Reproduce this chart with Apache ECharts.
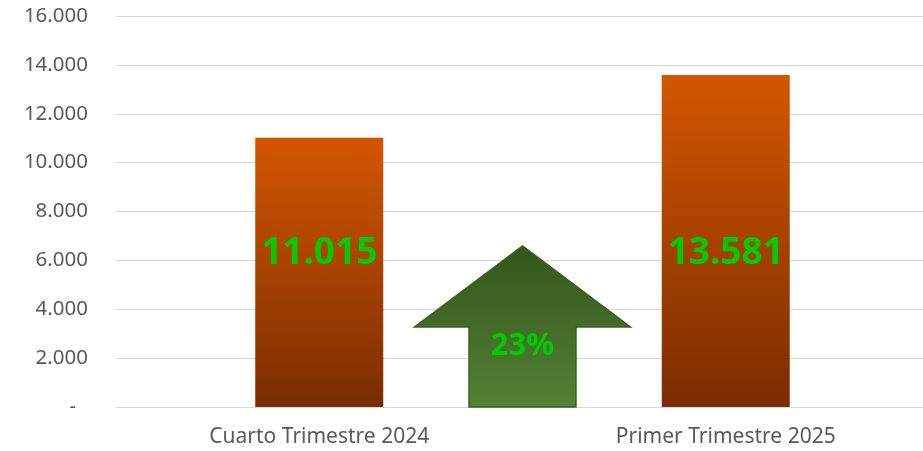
<!DOCTYPE html>
<html>
<head>
<meta charset="utf-8">
<script src="https://cdn.jsdelivr.net/npm/echarts@6/dist/echarts.min.js"></script>
<style>html,body{margin:0;padding:0;background:#fff;}#c{width:923px;height:451px;}</style>
</head>
<body>
<div id="c"></div>
<script>
var categories = ['Cuarto Trimestre 2024', 'Primer Trimestre 2025'];
var values = [11015, 13581];
var yTicks = [0, 2000, 4000, 6000, 8000, 10000, 12000, 14000, 16000];
var growthLabel = '23%';
var arrowTipValue = 6590;
var arrowShoulderValue = 3270;
var arrowTextValue = 2500;

function fmt(v) {
  return String(Math.round(v)).replace(/\B(?=(\d{3})+(?!\d))/g, '.');
}

var chart = echarts.init(document.getElementById('c'));
var FONT = 'Noto Sans';
chart.setOption({
  animation: false,
  grid: { left: 116, right: -6, top: 16, bottom: 44, containLabel: false, outerBoundsMode: 'none' },
  xAxis: {
    type: 'category',
    data: categories,
    axisLine: { show: true, lineStyle: { color: '#d9d9d9', width: 1 } },
    axisTick: { show: false },
    axisLabel: { color: '#595959', fontFamily: FONT, fontSize: 21, margin: 20 }
  },
  yAxis: {
    type: 'value',
    min: yTicks[0],
    max: yTicks[yTicks.length - 1],
    interval: yTicks[1] - yTicks[0],
    axisLine: { show: false },
    axisTick: { show: false },
    splitLine: { lineStyle: { color: '#d9d9d9', width: 1 } },
    axisLabel: {
      color: '#595959', fontFamily: FONT, fontSize: 20.5, margin: 28,
      formatter: function (v) { return v === 0 ? '{d|-}' : fmt(v); },
      rich: { d: { color: '#595959', fontFamily: FONT, fontSize: 20, padding: [0, 12, 0, 0] } }
    }
  },
  series: [{
    type: 'bar',
    data: values,
    barWidth: 128,
    itemStyle: {
      color: new echarts.graphic.LinearGradient(0, 0, 0, 1, [
        { offset: 0, color: '#d35600' },
        { offset: 1, color: '#7a2d00' }
      ])
    },
    label: {
      show: true,
      position: 'insideBottom',
      distance: 135,
      formatter: function (p) { return fmt(p.value); },
      color: '#00cc00',
      fontFamily: FONT,
      fontWeight: 'bold',
      fontSize: 37
    }
  }]
});

function drawArrow() {
  var p0 = chart.convertToPixel({ seriesIndex: 0 }, [0, 0]);
  var p1 = chart.convertToPixel({ seriesIndex: 0 }, [1, 0]);
  var cx = (p0[0] + p1[0]) / 2;
  var yBase = p0[1];
  var yTip = chart.convertToPixel({ yAxisIndex: 0 }, arrowTipValue);
  var ySh = chart.convertToPixel({ yAxisIndex: 0 }, arrowShoulderValue);
  var yTxt = chart.convertToPixel({ yAxisIndex: 0 }, arrowTextValue);
  var sw = 53.5, ww = 108;
  chart.setOption({
    graphic: [{
      type: 'polygon',
      shape: { points: [[cx, yTip], [cx + ww, ySh], [cx + sw, ySh], [cx + sw, yBase], [cx - sw, yBase], [cx - sw, ySh], [cx - ww, ySh]] },
      style: {
        fill: new echarts.graphic.LinearGradient(0, 0, 0, 1, [
          { offset: 0, color: '#33551b' },
          { offset: 1, color: '#548235' }
        ]),
        stroke: '#3b6122',
        lineWidth: 1.5
      },
      z: 10
    }, {
      type: 'text',
      x: cx, y: yTxt,
      style: {
        text: growthLabel,
        fill: '#00cc00',
        font: 'bold 31px "Noto Sans"',
        align: 'center',
        verticalAlign: 'middle'
      },
      z: 11
    }]
  });
}
drawArrow();
</script>
</body>
</html>
